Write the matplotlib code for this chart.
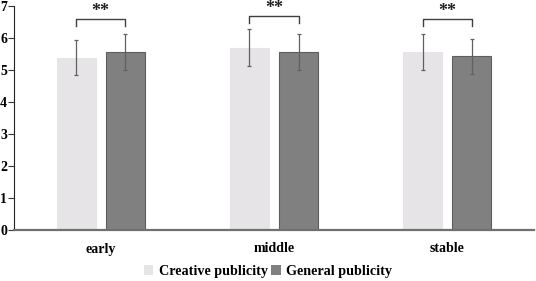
import matplotlib
matplotlib.use("Agg")
import matplotlib.pyplot as plt
from matplotlib import font_manager
import numpy as np

categories = ["early", "middle", "stable"]
series_names = ["Creative publicity", "General publicity"]
creative = [5.38, 5.70, 5.56]
creative_err = [0.55, 0.57, 0.57]
general = [5.57, 5.55, 5.43]
general_err = [0.56, 0.56, 0.55]
sig_labels = ["**", "**", "**"]
yticks = [0, 1, 2, 3, 4, 5, 6, 7]

avail = {f.name for f in font_manager.fontManager.ttflist}
serif = [f for f in ['Liberation Serif', 'Times New Roman', 'DejaVu Serif'] if f in avail]
plt.rcParams['font.family'] = 'serif'
plt.rcParams['font.serif'] = serif
plt.rcParams['font.weight'] = 'bold'

fig = plt.figure(figsize=(5.36, 2.81), dpi=100)
ax = fig.add_axes([14/536, 1-230/281, 520/536, 224/281])

x = np.arange(len(categories))
w = 0.225
off = 0.142
ax.bar(x - off, creative, w, color='#e6e4e6', edgecolor='#e6e4e6', linewidth=0.8,
       label=series_names[0], zorder=2)
ax.bar(x + off, general, w, color='#808080', edgecolor='#5e5e5e', linewidth=0.8,
       label=series_names[1], zorder=2)
ax.errorbar(x - off, creative, yerr=creative_err, fmt='none', ecolor='#606060',
            elinewidth=0.9, capsize=1.5, capthick=0.9, zorder=3)
ax.errorbar(x + off, general, yerr=general_err, fmt='none', ecolor='#606060',
            elinewidth=0.9, capsize=1.5, capthick=0.9, zorder=3)

# significance brackets
for i, lab in enumerate(sig_labels):
    top = max(creative[i] + creative_err[i], general[i] + general_err[i]) + 0.45
    top = min(top, 6.68)
    x0, x1 = x[i] - off, x[i] + off
    ax.plot([x0, x0, x1, x1], [top - 0.22, top, top, top - 0.22],
            color='#404040', lw=1.0, zorder=3)
    ax.text(x[i], top - 0.02, lab, ha='center', va='bottom', fontsize=13,
            fontweight='bold', color='#202020')

ax.set_xlim(-0.5, 2.5)
ax.set_ylim(0, 7)
ax.set_yticks(yticks)
ax.set_yticklabels([str(t) for t in yticks], fontsize=10, fontweight='bold')
ax.set_xticks(x)
ax.set_xticklabels(categories, fontsize=10, fontweight='bold')
ax.tick_params(axis='x', length=0, pad=9)
ax.tick_params(axis='y', length=4, width=0.8, pad=1, color='#333333')
for s in ['top', 'right']:
    ax.spines[s].set_visible(False)
ax.spines['left'].set_color('#222222')
ax.spines['left'].set_linewidth(0.8)
ax.spines['bottom'].set_color('#707070')
ax.spines['bottom'].set_linewidth(1.6)

leg = fig.legend(loc='center', bbox_to_anchor=(0.5, 1-271/281), ncol=2, frameon=False,
                 handlelength=0.7, handleheight=0.7, handletextpad=0.4,
                 columnspacing=0.2, prop={'family': 'serif', 'weight': 'bold', 'size': 10.2})
for h in leg.legend_handles:
    h.set_edgecolor('none')

fig.savefig("out.png", dpi=100)
